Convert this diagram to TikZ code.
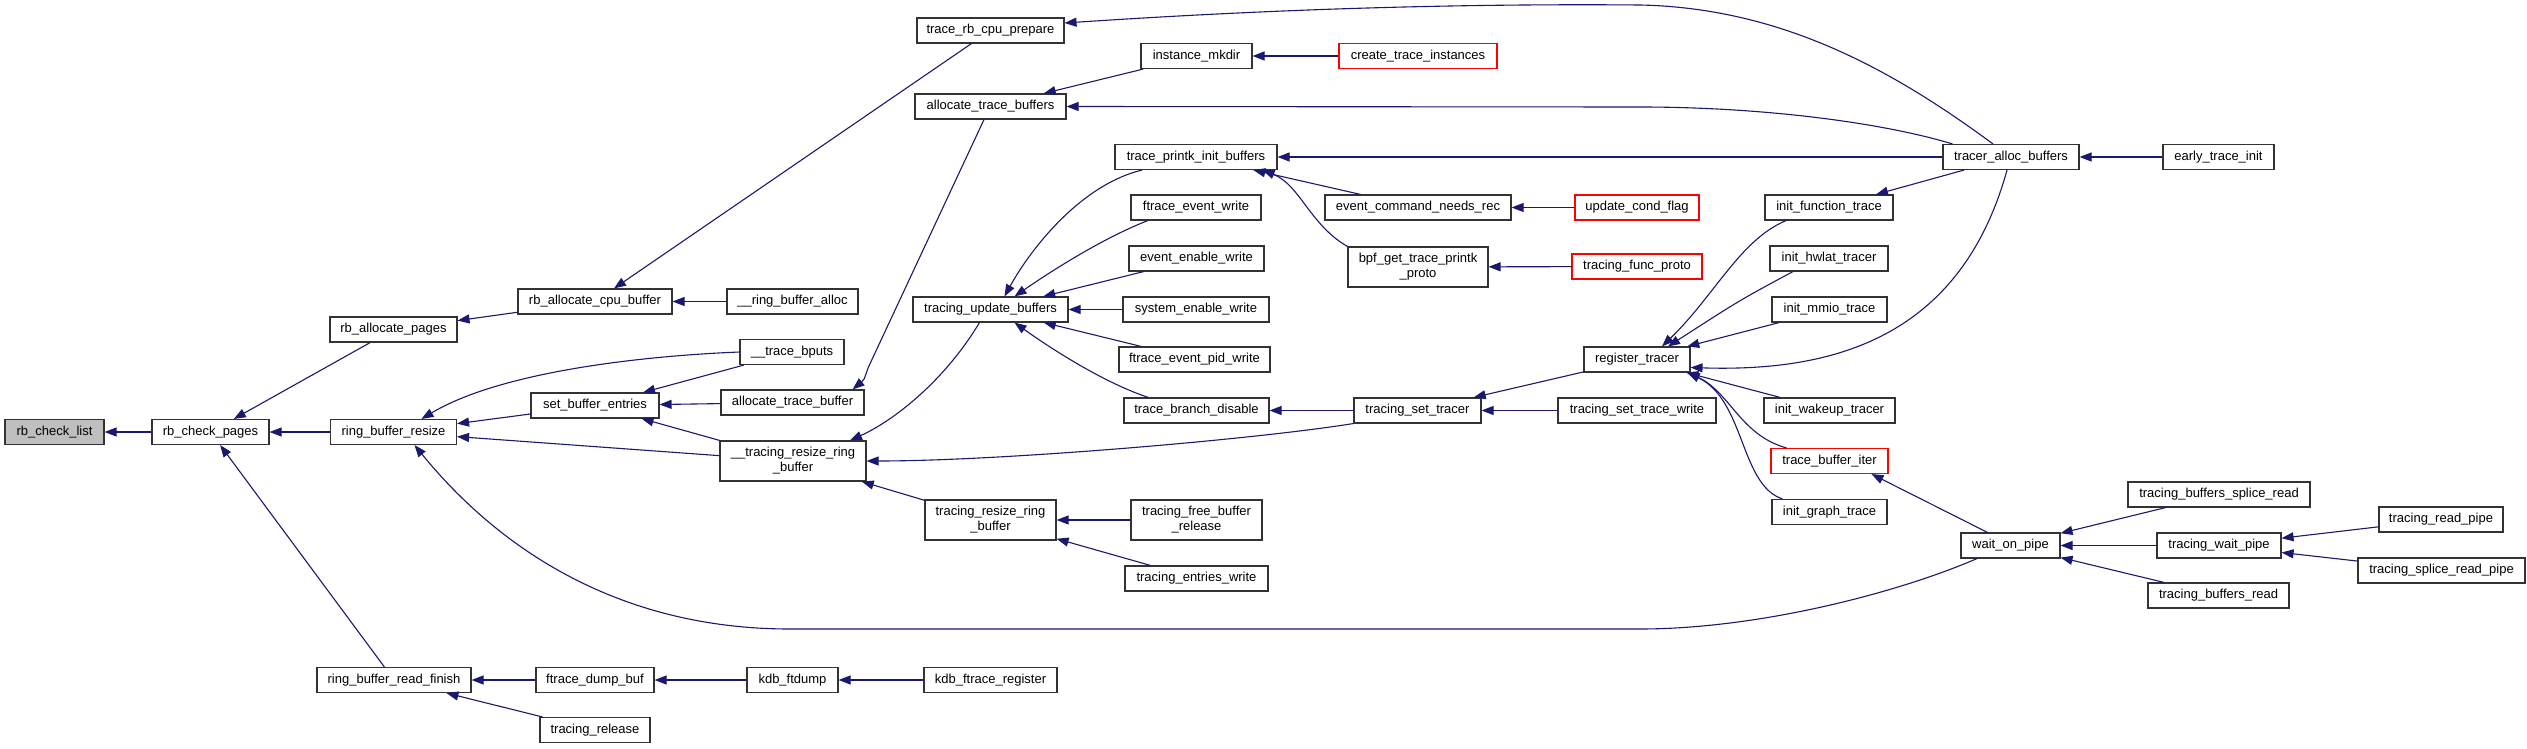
\documentclass[tikz,border=0pt]{standalone}
\usepackage{fontspec}
\setmainfont{Liberation Sans}
\usepackage{tikz}
\usetikzlibrary{arrows.meta}
\definecolor{edgeblue}{RGB}{25,25,112}
\definecolor{rootgray}{RGB}{191,191,191}
\tikzset{
  fn/.style={draw=black!80, fill=white, line width=1.1pt, minimum height=25pt,
             inner sep=0pt, align=center, font=\fontsize{13}{15}\selectfont},
  tallfn/.style={fn, minimum height=40pt},
  rootfn/.style={fn, fill=rootgray},
  redfn/.style={fn, draw=red},
  call/.style={-{Triangle[length=12pt,width=9pt]}, line width=1.1pt, edgeblue}
}

\begin{document}
\begin{tikzpicture}[x=1pt, y=-1pt]
    \useasboundingbox[fill=white] (0,0) rectangle (2527,749);
    % ranks 0-4
    \node[rootfn, minimum width=99pt] (rbcl) at (54.5,432) {rb\_check\_list};
    \node[fn, minimum width=117pt] (rbcp) at (210.5,432) {rb\_check\_pages};
    \node[fn, minimum width=127pt] (rbap) at (393.5,329.5) {rb\_allocate\_pages};
    \node[fn, minimum width=126pt] (rbrs) at (393.5,432) {ring\_buffer\_resize};
    \node[fn, minimum width=154pt] (rbrf) at (394,680) {ring\_buffer\_read\_finish};
    \node[fn, minimum width=154pt] (rbacb) at (595,301.5) {rb\_allocate\_cpu\_buffer};
    \node[fn, minimum width=128pt] (sbe) at (595,405.5) {set\_buffer\_entries};
    \node[fn, minimum width=118pt] (fdb) at (595,680) {ftrace\_dump\_buf};
    \node[fn, minimum width=110pt] (trel) at (595,730) {tracing\_release};
    \node[fn, minimum width=131pt] (rba) at (792.5,301.5) {\_\_ring\_buffer\_alloc};
    \node[fn, minimum width=104pt] (tbp) at (792,352) {\_\_trace\_bputs};
    \node[fn, minimum width=143pt] (atb) at (792.5,402.5) {allocate\_trace\_buffer};
    \node[tallfn, minimum width=146pt] (trrb) at (793,461) {\_\_tracing\_resize\_ring\\\_buffer};
    \node[fn, minimum width=91pt] (kdbf) at (792.5,680) {kdb\_ftdump};
    % ranks 5-6
    \node[fn, minimum width=147pt] (trcp) at (990.5,30.5) {trace\_rb\_cpu\_prepare};
    \node[fn, minimum width=151pt] (atbs) at (990.5,106.5) {allocate\_trace\_buffers};
    \node[fn, minimum width=155pt] (tub) at (990.5,309.5) {tracing\_update\_buffers};
    \node[tallfn, minimum width=131pt] (trrb2) at (990.5,520) {tracing\_resize\_ring\\\_buffer};
    \node[fn, minimum width=133pt] (kdbr) at (990.5,680) {kdb\_ftrace\_register};
    \node[fn, minimum width=111pt] (imk) at (1196.5,56) {instance\_mkdir};
    \node[fn, minimum width=162pt] (tpib) at (1196,157) {trace\_printk\_init\_buffers};
    \node[fn, minimum width=130pt] (few) at (1196,207.5) {ftrace\_event\_write};
    \node[fn, minimum width=135pt] (eew) at (1196.5,258.5) {event\_enable\_write};
    \node[fn, minimum width=146pt] (sew) at (1196,309.5) {system\_enable\_write};
    \node[fn, minimum width=151pt] (fepw) at (1194.5,359.5) {ftrace\_event\_pid\_write};
    \node[fn, minimum width=145pt] (tbd) at (1196.5,410.5) {trace\_branch\_disable};
    \node[tallfn, minimum width=131pt] (tfbr) at (1196.5,520) {tracing\_free\_buffer\\\_release};
    \node[fn, minimum width=143pt] (tew) at (1196.5,578.5) {tracing\_entries\_write};
    % ranks 7-9
    \node[redfn, minimum width=158pt] (cti) at (1418,56) {create\_trace\_instances};
    \node[fn, minimum width=186pt] (ecnr) at (1418,207.5) {event\_command\_needs\_rec};
    \node[tallfn, minimum width=140pt] (bpf) at (1418,267) {bpf\_get\_trace\_printk\\\_proto};
    \node[fn, minimum width=127pt] (tst) at (1417.5,410.5) {tracing\_set\_tracer};
    \node[redfn, minimum width=124pt] (ucf) at (1637,207.5) {update\_cond\_flag};
    \node[redfn, minimum width=130pt] (tfp) at (1637,266.5) {tracing\_func\_proto};
    \node[fn, minimum width=106pt] (rt) at (1637,359.5) {register\_tracer};
    \node[fn, minimum width=158pt] (tstw) at (1637,410.5) {tracing\_set\_trace\_write};
    \node[fn, minimum width=128pt] (ift) at (1829,207.5) {init\_function\_trace};
    \node[fn, minimum width=118pt] (iht) at (1829,258.5) {init\_hwlat\_tracer};
    \node[fn, minimum width=115pt] (imt) at (1829.5,309.5) {init\_mmio\_trace};
    \node[fn, minimum width=131pt] (iwt) at (1829.5,410.5) {init\_wakeup\_tracer};
    \node[redfn, minimum width=117pt] (tbi) at (1829.5,461) {trace\_buffer\_iter};
    \node[fn, minimum width=115pt] (igt) at (1829.5,512) {init\_graph\_trace};
    % ranks 10-12
    \node[fn, minimum width=136pt] (tab) at (2011,157) {tracer\_alloc\_buffers};
    \node[fn, minimum width=99pt] (wop) at (2010.5,545.5) {wait\_on\_pipe};
    \node[fn, minimum width=111pt] (eti) at (2218.5,157) {early\_trace\_init};
    \node[fn, minimum width=182pt] (tbsr) at (2219,494.5) {tracing\_buffers\_splice\_read};
    \node[fn, minimum width=124pt] (twp) at (2219,545.5) {tracing\_wait\_pipe};
    \node[fn, minimum width=141pt] (tbr) at (2218.5,595.5) {tracing\_buffers\_read};
    \node[fn, minimum width=124pt] (trp) at (2441,519.5) {tracing\_read\_pipe};
    \node[fn, minimum width=167pt] (tsrp) at (2441.5,570.5) {tracing\_splice\_read\_pipe};

    % calls into ranks 0-2
    \draw[call] (rbcp) -- (rbcl);
    \draw[call] (rbrs) -- (rbcp);
    \draw[call] (rbap) -- (rbcp);
    \draw[call] (rbrf) -- (rbcp);
    \draw[call] (rbacb) -- (rbap);
    \draw[call] (sbe) -- (rbrs);
    \draw[call] (trrb) -- (rbrs);
    \draw[call] (tbp.west) .. controls (640,356) and (500,372) .. ([xshift=28pt]rbrs.north);
    \draw[call] ([xshift=-33.5pt]wop.south) .. controls (1900,592) and (1760,629) .. (1640,629)
      -- (790,629) .. controls (620,629) and (500,550) .. ([xshift=21pt]rbrs.south);
    \draw[call] (fdb) -- (rbrf);
    \draw[call] (trel) -- (rbrf);
    % calls into ranks 3-5
    \draw[call] (trcp) -- (rbacb);
    \draw[call] (rba) -- (rbacb);
    \draw[call] (tbp) -- (sbe);
    \draw[call] (atb) -- (sbe);
    \draw[call] (trrb) -- (sbe);
    \draw[call] (kdbf) -- (fdb);
    \draw[call] ([xshift=-6.5pt]atbs.south) -- (868,368) .. controls (864,380) .. ([xshift=-12pt]atb.north east);
    \draw[call] ([xshift=-11pt]tub.south) .. controls (945,380) and (895,420) .. ([xshift=57pt]trrb.north);
    \draw[call] (tst.south west) .. controls (1250,440) and (1000,461) .. (trrb.east);
    \draw[call] (trrb2) -- (trrb);
    \draw[call] (kdbr) -- (kdbf);
    \draw[call] (imk) -- (atbs);
    \draw[call] ([xshift=10pt]tab.north west) .. controls (1880,122) and (1760,107) .. (1640,107) -- (atbs.east);
    \draw[call] ([xshift=-18pt]tab.north) .. controls (1890,68) and (1780,8) .. (1640,5)
      .. controls (1400,3) and (1200,14) .. ([yshift=7.5pt]trcp.east);
    \draw[call] ([xshift=-54pt]tpib.south) .. controls (1080,185) and (1030,250) .. ([xshift=14pt]tub.north);
    \draw[call] ([xshift=-48pt]few.south) .. controls (1110,235) and (1060,265) .. ([xshift=24pt]tub.north);
    \draw[call] (eew) -- (tub);
    \draw[call] (sew) -- (tub);
    \draw[call] (fepw) -- (tub);
    \draw[call] ([xshift=-48pt]tbd.north) .. controls (1110,385) and (1060,355) .. ([xshift=24pt]tub.south);
    \draw[call] (tfbr) -- (trrb2);
    \draw[call] (tew) -- (trrb2);
    % calls into ranks 6-8
    \draw[call] (cti) -- (imk);
    \draw[call] (tab) -- (tpib);
    \draw[call] (ecnr) -- (tpib);
    \draw[call] (bpf.north west) .. controls (1310,225) and (1300,185) .. ([xshift=-15pt]tpib.south east);
    \draw[call] (tst) -- (tbd);
    \draw[call] (ucf) -- (ecnr);
    \draw[call] (tfp) -- (bpf);
    \draw[call] (rt) -- (tst);
    \draw[call] (tstw) -- (tst);
    \draw[call] ([xshift=-43pt]ift.south) .. controls (1740,240) and (1715,295) .. ([xshift=25pt]rt.north);
    \draw[call] ([xshift=-36pt]iht.south) .. controls (1740,300) .. ([xshift=31pt]rt.north);
    \draw[call] (imt) -- (rt);
    \draw[call] (iwt) -- (rt);
    \draw[call] ([xshift=-43pt]tbi.north) .. controls (1740,435) and (1730,392) .. ([xshift=-3pt]rt.south east);
    \draw[call] ([xshift=-47pt]igt.north) .. controls (1740,485) and (1745,400) .. ([xshift=-3pt]rt.south east);
    % calls into ranks 9-11
    \draw[call] (tab) -- (ift);
    \draw[call] ([xshift=-4pt]tab.south) .. controls (1960,340) and (1830,372) .. ([yshift=-8pt]rt.east);
    \draw[call] ([xshift=-23pt]wop.north) -- ([xshift=42pt]tbi.south);
    \draw[call] (eti) -- (tab);
    \draw[call] (tbsr) -- (wop);
    \draw[call] (twp) -- (wop);
    \draw[call] (tbr) -- (wop);
    \draw[call] (trp) -- (twp);
    \draw[call] (tsrp) -- (twp);
\end{tikzpicture}
\end{document}
